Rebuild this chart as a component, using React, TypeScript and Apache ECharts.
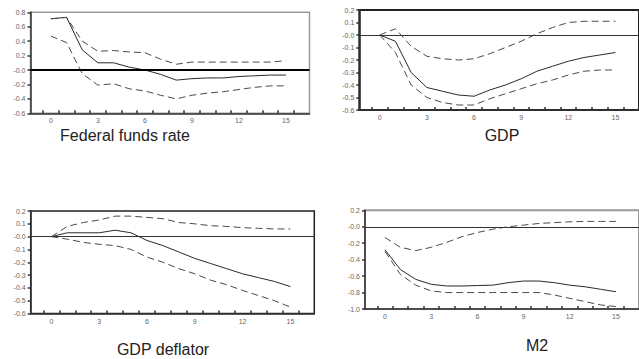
import React, { useEffect, useRef } from "react";
import * as echarts from "echarts";

const periods = [0, 1, 2, 3, 4, 5, 6, 7, 8, 9, 10, 11, 12, 13, 14, 15];
const xLabelValues = [0, 3, 6, 9, 12, 15];
const xTickValues = [-0.5, 0.5, 1.5, 2.5, 3.5, 4.5, 5.5, 6.5, 7.5, 8.5, 9.5, 10.5, 11.5, 12.5, 13.5, 14.5, 15.5];

const titles = ["Federal funds rate", "GDP", "GDP deflator", "M2"];

const fedSolid = [0.71, 0.73, 0.28, 0.1, 0.1, 0.04, 0.0, -0.06, -0.14, -0.12, -0.11, -0.11, -0.09, -0.08, -0.07, -0.07];
const fedUpper = [0.71, 0.73, 0.4, 0.26, 0.27, 0.25, 0.24, 0.15, 0.08, 0.11, 0.11, 0.11, 0.11, 0.11, 0.11, 0.13];
const fedLower = [0.47, 0.38, -0.05, -0.21, -0.19, -0.26, -0.29, -0.35, -0.4, -0.35, -0.32, -0.3, -0.27, -0.24, -0.22, -0.22];

const gdpSolid = [0.0, -0.05, -0.3, -0.42, -0.45, -0.48, -0.49, -0.44, -0.4, -0.35, -0.29, -0.25, -0.21, -0.18, -0.16, -0.14];
const gdpUpper = [0.0, 0.05, -0.09, -0.17, -0.19, -0.2, -0.19, -0.15, -0.1, -0.05, 0.01, 0.06, 0.1, 0.11, 0.11, 0.11];
const gdpLower = [0.0, -0.14, -0.4, -0.5, -0.54, -0.56, -0.56, -0.51, -0.47, -0.43, -0.39, -0.36, -0.32, -0.29, -0.28, -0.28];

const deflSolid = [0.0, 0.03, 0.03, 0.03, 0.05, 0.03, -0.03, -0.07, -0.12, -0.17, -0.21, -0.25, -0.29, -0.32, -0.35, -0.39];
const deflUpper = [0.0, 0.08, 0.11, 0.13, 0.16, 0.16, 0.15, 0.14, 0.11, 0.1, 0.085, 0.08, 0.07, 0.065, 0.06, 0.06];
const deflLower = [0.0, -0.02, -0.045, -0.06, -0.07, -0.1, -0.16, -0.2, -0.25, -0.29, -0.34, -0.375, -0.42, -0.46, -0.5, -0.55];

const m2Solid = [-0.28, -0.52, -0.64, -0.7, -0.72, -0.72, -0.715, -0.71, -0.68, -0.66, -0.66, -0.68, -0.71, -0.73, -0.76, -0.79];
const m2Upper = [-0.13, -0.25, -0.29, -0.25, -0.19, -0.12, -0.07, -0.03, 0.0, 0.02, 0.04, 0.05, 0.06, 0.065, 0.065, 0.065];
const m2Lower = [-0.3, -0.58, -0.71, -0.78, -0.8, -0.8, -0.8, -0.8, -0.8, -0.8, -0.8, -0.83, -0.87, -0.91, -0.95, -0.97];

const yRanges = [
  { min: -0.6, max: 0.8, interval: 0.2 },
  { min: -0.6, max: 0.2, interval: 0.1 },
  { min: -0.6, max: 0.2, interval: 0.1 },
  { min: -1.0, max: 0.2, interval: 0.2 },
];

const seriesSets = [
  [fedSolid, fedUpper, fedLower],
  [gdpSolid, gdpUpper, gdpLower],
  [deflSolid, deflUpper, deflLower],
  [m2Solid, m2Upper, m2Lower],
];

const grids = [
  { left: 30.5, top: 12.3, width: 279, height: 101 },
  { left: 359.3, top: 10, width: 286, height: 100 },
  { left: 30.7, top: 211, width: 283.6, height: 102.5 },
  { left: 365, top: 210.3, width: 281, height: 98.7 },
];

const borderStyles = [
  { color: "#9a9a9a", width: 1.5 },
  { color: "#222", width: 2 },
  { color: "#222", width: 1.5 },
  { color: "#9a9a9a", width: 2 },
];

const zeroLines = [
  { color: "#000", width: 2 },
  { color: "#333", width: 1 },
  { color: "#333", width: 1 },
  { color: "#333", width: 1 },
];

const titlePos = [
  { x: 125, y: 135 },
  { x: 502, y: 135 },
  { x: 163, y: 349 },
  { x: 537, y: 345 },
];

const fmtY = (v: number) => (Math.abs(v) < 1e-9 ? "-0.0" : v.toFixed(1));

export default function App() {
  const ref = useRef<HTMLDivElement>(null);
  useEffect(() => {
    if (!ref.current) return;
    const chart = echarts.init(ref.current, undefined, { renderer: "svg" });
    const series: any[] = [];
    seriesSets.forEach((set, gi) => {
      set.forEach((vals, si) => {
        const s: any = {
          type: "line",
          xAxisIndex: gi,
          yAxisIndex: gi,
          data: periods.map((p, i) => [p, vals[i]]),
          showSymbol: false,
          symbol: "none",
          z: 3,
          lineStyle: {
            color: si === 0 ? "#2a2a2a" : "#4a4a4a",
            width: 1,
            type: si === 0 ? "solid" : [7, 4],
          },
        };
        if (si === 0) {
          s.markLine = {
            silent: true,
            symbol: "none",
            label: { show: false },
            lineStyle: { color: zeroLines[gi].color, width: zeroLines[gi].width, type: "solid" },
            data: [{ yAxis: 0 }],
          };
        }
        series.push(s);
      });
    });
    const option: any = {
      animation: false,
      backgroundColor: "#ffffff",
      grid: grids.map((g, i) => ({
        ...g,
        show: true,
        borderColor: borderStyles[i].color,
        borderWidth: borderStyles[i].width,
        backgroundColor: "transparent",
      })),
      xAxis: grids.map((_, i) => ({
        type: "value",
        gridIndex: i,
        min: -1.3,
        max: 16.5,
        splitLine: { show: false },
        axisLine: { show: true, onZero: false, lineStyle: { color: "#333", width: 1.5 } },
        axisTick: {
          show: true,
          inside: true,
          length: 3,
          customValues: xTickValues,
          lineStyle: { color: "#333", width: 1.5 },
        },
        axisLabel: {
          show: true,
          customValues: xLabelValues,
          fontSize: 7,
          color: "#666",
          margin: 4,
          fontFamily: "Liberation Sans, Arial, sans-serif",
        },
      })),
      yAxis: grids.map((_, i) => ({
        type: "value",
        gridIndex: i,
        min: yRanges[i].min,
        max: yRanges[i].max,
        interval: yRanges[i].interval,
        splitLine: { show: false },
        axisLine: { show: true, onZero: false, lineStyle: { color: "#333", width: 1.5 } },
        axisTick: { show: true, length: 3, lineStyle: { color: "#333", width: 1.5 } },
        axisLabel: {
          fontSize: 7,
          color: "#666",
          margin: 5,
          formatter: fmtY,
          fontFamily: "Liberation Sans, Arial, sans-serif",
        },
      })),
      series,
      graphic: titles.map((t, i) => ({
        type: "text",
        x: titlePos[i].x,
        y: titlePos[i].y,
        style: {
          text: t,
          fill: "#222",
          font: "16px 'Liberation Sans', Arial, sans-serif",
          textAlign: "center",
          textVerticalAlign: "middle",
        },
      })),
    };
    chart.setOption(option);
    return () => chart.dispose();
  }, []);
  return (
    <div
      ref={ref}
      style={{ position: "fixed", left: 0, top: 0, width: 639, height: 359, background: "#fff" }}
    />
  );
}
